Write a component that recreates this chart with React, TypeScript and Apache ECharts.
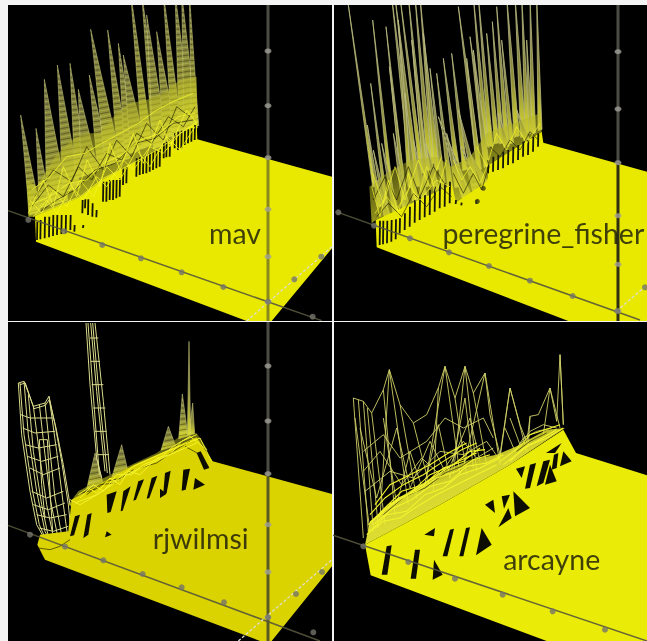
import React, { useEffect, useRef } from "react";
import * as echarts from "echarts";

type P = number[];
// All numbers below are scene readings from the picture, per panel.
const panelNames = ["mav", "peregrine_fisher", "rjwilmsi", "arcayne"];
const labelAnchors = [[705, 700], [640, 698], [602, 660], [665, 722]];

// spike = [top x, top y, base x, base y, half width]
const mavSpikes: P[] = [
  [62,345,105,640,17],[108,385,135,620,17],[133,238,172,610,32],[172,195,215,570,26],[210,190,245,530,20],
  [235,268,270,520,26],[268,225,312,500,20],[272,88,340,490,24],[323,90,372,480,18],[355,130,392,460,18],
  [370,165,415,450,24],[392,-20,442,440,15],[425,-20,472,425,15],[440,45,482,440,22],[470,95,510,410,20],
  [490,-20,532,410,16],[525,-20,558,395,20],[545,-20,572,390,20],[568,-20,585,380,11],
];
const mavMass: P[][] = [
  [[85,650],[80,540],[110,560],[165,470],[215,420],[260,400],[300,400],[340,350],[390,310],[440,300],[490,280],[540,240],[590,230],[592,375],[480,450],[370,510],[310,540],[240,595],[105,650]],
];
const mavMesh: P[][] = [
  [[85,640],[130,540],[160,620],[190,500],[230,590],[262,480],[300,560],[330,430],[360,510],[400,400],[430,490],[480,360],[510,440],[560,330],[590,370]],
  [[100,650],[140,600],[170,640],[215,560],[250,600],[290,530],[320,560],[370,480],[400,510],[450,440],[490,460],[540,400],[590,370]],
  [[90,600],[125,640],[160,570],[200,620],[240,540],[280,590],[320,500],[360,540],[410,450],[450,500],[500,410],[540,450],[585,380]],
  [[105,645],[240,590],[310,535],[370,505],[480,445],[590,365]],
  [[100,610],[150,590],[205,550],[260,540],[310,490],[365,465],[420,420],[480,400],[535,350],[585,340]],
  [[95,570],[150,530],[200,470],[255,460],[305,430],[360,400],[415,370],[470,330],[530,300],[580,280]],
];
const mavDark: P[][] = [
  [[95,620],[145,555],[190,590],[235,500],[275,540],[320,460],[365,480],[410,400],[455,430],[505,350],[550,380],[585,320]],
  [[105,590],[160,510],[215,545],[260,440],[310,510],[350,420],[395,470],[440,370],[490,420],[530,320],[570,350]],
  [[120,635],[170,600],[225,570],[285,510],[345,490],[405,430],[465,415],[520,370],[580,360]],
];
const mavFloor: P[] = [[108,725],[105,648],[240,592],[310,538],[370,505],[480,448],[590,368],[592,418],[996,530],[996,745],[815,963],[740,963]];
// stripe = [x, top y, bottom y]
const mavStripes: P[] = [
  [112,665,720],[122,660,718],[135,650,715],[148,650,712],[160,645,708],[172,645,705],[185,645,702],[198,645,700],[212,645,690],[224,675,695],
  [248,600,640],[256,598,625],[265,598,645],[278,610,650],[290,630,652],[250,675,684],
  [310,545,605],[320,545,605],[330,540,600],[340,540,600],[350,540,595],[360,535,590],
  [370,505,555],[380,500,550],[410,475,530],[420,472,525],[430,468,522],[440,465,520],[450,460,515],[460,455,510],[470,450,505],[480,448,500],
  [492,430,475],[500,425,472],[510,432,470],[525,400,445],[535,395,450],[545,392,445],[555,390,435],[565,388,430],[575,385,425],[585,375,420],
];

const peregrineSpikes: P[] = [
  [55,15,132,560,4],[128,60,182,560,5],[122,250,168,610,5],[112,375,148,620,6],[168,80,215,520,5],[185,-10,250,560,8],[195,-10,262,560,8],[205,60,240,560,6],
  [210,-10,275,520,6],[235,-10,285,500,7],[255,-10,300,510,8],[270,-10,312,490,8],[280,100,322,510,7],[300,205,345,610,8],[320,220,365,600,8],[178,200,225,600,6],
  [340,175,382,510,7],[365,160,405,510,7],[385,20,440,450,6],[410,175,447,510,7],[430,-10,470,440,7],[445,-10,482,440,7],[420,110,465,460,7],[245,120,290,560,6],
  [470,100,500,430,7],[487,65,515,430,7],[500,20,530,430,7],[530,-10,560,410,8],[555,-10,580,410,8],[575,-10,592,400,7],[600,-10,610,400,7],[620,-10,630,390,6],[515,120,545,430,6],[590,120,602,400,6],
  [130,450,172,650,8],[155,430,200,650,9],[190,400,228,630,10],[225,280,255,600,8],[250,420,285,600,9],[288,430,320,570,9],[140,540,180,680,10],[205,500,240,660,10],
  [325,350,410,590,14],[430,150,470,500,8],[350,400,385,560,10],[385,330,440,560,9],[505,340,530,440,8],[560,330,590,420,8],[395,440,450,600,14],[370,470,420,610,10],[420,460,470,560,10],
];
const peregrineMass: P[][] = [
  [[125,670],[118,560],[170,520],[240,480],[320,470],[365,500],[420,470],[470,400],[630,340],[635,395],[480,492],[470,545],[378,606],[240,612],[137,660]],
];
const peregrineMesh: P[][] = [
  [[125,560],[150,650],[175,540],[205,640],[235,520],[260,610],[290,500],[320,580],[350,480]],
  [[135,640],[170,590],[200,630],[240,560],[270,600],[320,540],[360,560]],
  [[128,520],[160,610],[195,500],[225,600],[265,480],[300,560],[335,470]],
  [[440,440],[470,500],[500,400],[530,450],[560,380],[590,430],[630,370]],
  [[370,480],[395,540],[420,500],[450,550],[475,490]],
];
const peregrineDark: P[][] = [
  [[130,600],[165,530],[200,600],[235,500],[270,590],[310,500],[350,560]],
  [[140,650],[175,610],[215,650],[250,580],[290,620],[330,560],[365,590]],
  [[370,520],[400,580],[430,520],[455,570],[470,520]],
  [[480,440],[510,470],[540,420],[570,450],[600,395],[625,420]],
];
const peregrineFloor: P[] = [[140,742],[137,660],[240,612],[365,555],[378,606],[470,545],[480,492],[635,395],[640,428],[951,515],[951,963],[715,963]];
const peregrineStripes: P[] = [
  [150,662,735],[160,662,733],[172,662,730],[185,660,725],[198,658,718],[210,655,700],[225,640,690],[240,620,680],[255,600,668],[270,590,660],[285,585,652],
  [300,570,645],[315,560,635],[330,550,625],[345,550,620],[360,545,610],[378,600,612],[395,608,616],[440,600,612],
  [475,480,520],[490,470,515],[505,465,510],[520,455,505],[535,450,495],[550,440,490],[565,435,480],[580,425,470],[595,420,465],[610,410,455],[625,400,440],
];
const peregrineDots: P[] = [[460,565],[442,604]];

const rjwilmsiSpikes: P[] = [
  [285,405,285,505,25],[365,380,360,475,26],[505,325,505,390,22],[547,228,550,358,14],[578,255,575,350,9],[567,70,567,352,5],
];
const rjwilmsiWires: P[][] = [
  [[55,195],[72,190],[100,265],[135,255],[147,235],[165,320],[185,430],[205,560],[215,660]],
  [[60,200],[76,195],[102,272],[136,262],[148,245],[168,330],[190,440],[210,560]],
  [[55,195],[65,350],[90,520],[110,620],[135,665]],[[60,195],[72,350],[98,520],[118,620],[140,670]],[[72,190],[85,350],[110,520],[135,640],[160,690]],
  [[100,265],[120,420],[140,560],[165,680]],[[135,255],[150,400],[165,540],[190,680]],[[147,235],[170,400],[190,560],[205,670]],[[85,230],[100,400],[125,560],[150,680]],[[118,260],[135,410],[152,550],[178,680]],
  [[118,365],[125,500],[135,600]],[[118,365],[142,365],[150,520],[158,640]],
  [[62,290],[90,300],[140,300],[160,300]],[[75,380],[115,390],[170,380]],[[90,450],[130,470],[180,450]],[[95,520],[140,540],[190,520]],[[110,590],[150,600],[200,590]],
  [[68,330],[105,345],[165,340]],[[82,415],[125,430],[175,415]],[[100,560],[145,575],[195,555]],[[118,630],[160,640],[205,625]],
  [[258,15],[270,200],[290,420],[305,480]],[[285,15],[310,250],[330,470]],[[272,15],[290,220],[315,460]],[[264,15],[282,260],[298,470]],[[278,15],[298,240],[322,465]],
  [[270,60],[295,60]],[[272,130],[300,130]],[[275,200],[310,200]],[[280,270],[316,270]],[[285,340],[320,340]],[[292,410],[327,410]],
];
const rjwilmsiMass: P[][] = [
  [[205,560],[235,520],[290,490],[385,445],[470,405],[540,355],[590,345],[625,400],[600,375],[400,465],[230,575]],
];
const rjwilmsiMesh: P[][] = [
  [[235,530],[265,510],[290,525],[330,480],[360,500],[385,460],[420,470],[470,420],[510,410],[545,370],[590,350]],
  [[240,540],[280,500],[310,520],[350,470],[395,470],[430,440],[480,420],[520,385],[570,355],[620,395]],
  [[210,545],[240,560],[300,525],[400,445],[500,400],[600,360],[635,430]],
  [[225,555],[290,530],[390,465],[510,410],[590,375]],
];
const rjwilmsiDark: P[][] = [
  [[245,525],[285,515],[320,490],[365,480],[400,455]],[[260,530],[300,500],[345,495],[380,470]],[[420,450],[470,435],[520,400],[570,370]],
  [[115,690],[150,695],[180,685],[210,665]],[[555,385],[600,410],[625,445]],
];
const rjwilmsiFloor: P[] = [[135,725],[112,680],[120,650],[205,640],[215,545],[400,442],[590,358],[638,430],[996,528],[996,745],[815,969],[780,969]];
const rjwilmsiHoles: P[][] = [
  [[225,595],[240,590],[222,652],[210,655]],[[262,590],[275,585],[265,650],[250,660]],[[320,640],[335,650],[315,658]],
  [[320,530],[350,520],[332,582],[322,585]],[[370,520],[392,505],[368,578],[362,580]],[[415,490],[432,484],[408,545],[400,548]],
  [[455,480],[472,473],[448,540],[440,542]],[[495,465],[512,458],[500,525],[490,525]],[[480,512],[500,527],[480,540]],
  [[550,455],[570,452],[557,515],[545,518]],[[585,480],[615,500],[580,515]],[[590,405],[602,400],[628,450],[612,455]],
];

const arcayneOutline: P[] = [
  [70,240],[100,250],[125,285],[160,215],[178,155],[210,260],[250,315],[290,290],[325,210],[345,145],[375,240],[405,145],[430,225],[465,165],[480,290],[510,410],
  [540,210],[570,320],[595,385],[600,295],[625,290],[660,210],[680,310],[690,110],[700,320],
];
const arcayneWires: P[][] = [
  [[70,240],[100,660]],[[75,300],[120,640]],[[100,250],[130,640]],[[85,245],[115,640]],[[125,285],[165,620]],[[112,270],[145,630]],[[160,215],[195,590]],[[178,155],[235,560]],[[178,155],[150,600]],
  [[210,260],[260,540]],[[250,315],[300,510]],[[325,210],[310,520]],[[345,145],[390,470]],[[345,145],[285,500]],[[375,240],[410,470]],[[405,145],[440,460]],[[405,145],[370,470]],
  [[465,165],[510,440]],[[465,165],[400,450]],[[430,225],[470,440]],[[540,210],[510,420]],[[540,210],[590,400]],[[600,295],[590,380]],[[660,210],[640,350]],[[660,210],[690,330]],[[690,110],[700,320]],
  [[100,400],[160,350],[210,420],[290,370],[345,300],[400,330],[460,300],[490,360]],
  [[105,520],[180,460],[250,480],[330,400],[400,410],[470,370],[505,420]],
  [[90,330],[140,540],[200,330],[240,510],[300,370],[350,470],[420,300],[450,430]],
  [[100,460],[150,400],[215,500],[275,420],[330,470],[400,370],[440,420],[490,390]],
  [[160,300],[200,560],[240,400],[280,520],[325,320],[360,480],[405,240],[430,450]],
  [[540,300],[570,380],[600,340],[640,320],[680,330]],[[525,330],[555,400],[580,360],[620,340],[665,330]],
];
const arcayneMass: P[][] = [
  [[105,680],[120,610],[190,550],[270,500],[350,455],[420,425],[500,410],[560,385],[650,335],[705,330],[600,400],[540,440],[330,560]],
];
const arcayneMesh: P[][] = [
  [[110,650],[160,610],[210,600],[270,560],[320,530],[380,500],[440,470],[500,440]],
  [[120,640],[170,590],[230,580],[285,530],[340,510],[390,470],[450,450],[510,420]],
  [[130,620],[190,570],[245,545],[300,505],[360,490],[410,445],[470,435],[520,410]],
  [[140,600],[205,540],[260,520],[320,480],[380,460],[430,425],[480,410]],
  [[150,585],[215,520],[280,500],[340,450],[400,430],[450,390]],
  [[125,610],[175,560],[235,530],[300,470],[370,440],[420,400],[465,395]],
  [[115,620],[165,575],[210,545],[265,510],[330,465],[385,430],[440,405]],
  [[120,590],[165,540],[220,500],[280,470],[340,430],[395,395],[440,375]],
  [[135,560],[180,500],[240,470],[300,440],[355,405],[410,375]],
  [[520,440],[560,410],[600,380],[650,360],[700,330]],[[540,430],[580,390],[620,370],[680,335]],[[510,430],[570,385],[600,350],[690,320]],
];
const arcayneDark: P[][] = [
  [[135,570],[190,530],[245,500],[300,480],[355,440],[405,420],[455,400]],
  [[160,590],[225,535],[285,510],[345,465],[395,445],[445,410]],
  [[560,400],[600,370],[650,345]],
];
const arcayneFloor: P[] = [[122,772],[105,680],[330,560],[540,440],[700,335],[738,405],[951,472],[951,969],[650,969]];
const arcayneHoles: P[][] = [
  [[170,685],[185,682],[172,770],[155,770]],[[255,695],[270,695],[258,782],[242,782]],[[312,725],[338,770],[308,785]],[[283,650],[315,630],[312,655]],
  [[360,635],[372,632],[352,715],[338,715]],[[408,630],[420,628],[400,715],[388,715]],[[455,630],[485,680],[438,712]],
  [[465,560],[490,545],[495,585]],[[515,535],[540,530],[522,572]],[[535,570],[545,600],[505,628]],[[550,520],[600,570],[555,595]],
  [[558,452],[585,445],[575,480]],[[600,440],[618,435],[600,510],[585,512]],[[640,430],[660,425],[640,495],[620,505]],[[660,440],[680,490],[645,500]],
  [[648,405],[695,375],[675,405]],[[672,410],[685,405],[680,450],[665,455]],[[700,400],[725,430],[690,445]],
];

// axes: [vertical line], [front edge line], [side edge line] and tick balls on them
const verticalAxisX = [804, 864, 804, 864];
const verticalFloorStart = [473, 488, 467, 0];
const verticalFloorColor = ["#88881c", "#2f2f14", "#5a5a24", "#000"];
const verticalTicks = [[153,317,473,628,770,905],[155,327,488,647,793,933],[144,309,467,620,762,898],[]];
const frontAxis: P[][] = [[[24,632],[965,962]],[[24,637],[930,960]],[[24,622],[960,969]],[[9,652],[951,969]]];
const frontBalls: P[][] = [
  [[85,660],[192,694],[307,735],[423,775],[545,817],[670,861],[804,905],[938,950]],
  [[25,637],[132,677],[240,715],[357,757],[477,798],[600,842],[728,888],[862,933]],
  [[90,650],[195,686],[310,727],[428,768],[545,808],[672,853],[804,898],[940,943]],
  [[100,685],[235,732],[375,782],[518,830],[668,880],[825,935]],
];
const sideAxis: P[][] = [[[740,963],[996,740]],[[860,933],[951,855]],[[715,969],[996,725]],[]];
const sideBalls: P[][] = [[[883,838],[964,770]],[[945,862]],[[888,828],[966,762]],[]];

const floorColors = ["#e9e900", "#e9e900", "#dbd300", "#ebeb08"];
const meshWidths = [0.8, 0.7, 1, 1.1];
const panelSpikes = [mavSpikes, peregrineSpikes, rjwilmsiSpikes, []];
const panelWires = [[], [], rjwilmsiWires, [arcayneOutline, ...arcayneWires]];
const panelMass = [mavMass, peregrineMass, rjwilmsiMass, arcayneMass];
const panelMesh = [mavMesh, peregrineMesh, rjwilmsiMesh, arcayneMesh];
const panelDark = [mavDark, peregrineDark, rjwilmsiDark, arcayneDark];
const panelFloor = [mavFloor, peregrineFloor, rjwilmsiFloor, arcayneFloor];
const panelStripes = [mavStripes, peregrineStripes, [], []];
const panelHoles = [[], [], rjwilmsiHoles, arcayneHoles];
const panelDots = [[], peregrineDots, [], []];

const gridBoxes = [
  { left: 8, top: 5, width: 324, height: 316 },
  { left: 334, top: 5, width: 313, height: 316 },
  { left: 8, top: 322, width: 324, height: 319 },
  { left: 334, top: 322, width: 313, height: 319 },
];
const xRanges = [[24, 996], [12, 951], [24, 996], [12, 951]];
const yRanges = [[15, 963], [15, 963], [12, 969], [12, 969]];

function layer(panel: number, z: number, shapes: any[], draw: (s: any, api: any) => any) {
  return {
    type: "custom", coordinateSystem: "cartesian2d", xAxisIndex: panel, yAxisIndex: panel, z, clip: true, silent: true,
    data: shapes.map((_, i) => [i, i]),
    renderItem: (params: any, api: any) => draw(shapes[params.dataIndex], api),
  };
}
const pts = (api: any, list: P[]) => list.map((p) => api.coord(p));

function drawSpike(panel: number) {
  const narrow = panel === 1;
  return (s: P, api: any) => {
    const [tx, ty, bx, by, w] = s;
    const c = [[bx - w, by + w * 0.3], [tx, ty], [bx + w, by - w * 0.3]];
    const children: any[] = [{
      type: "polygon", shape: { points: pts(api, c) },
      style: {
        fill: new echarts.graphic.LinearGradient(0, 0, 0, 1, [
          { offset: 0, color: narrow ? "#77775e" : "#77774c" }, { offset: 0.6, color: "#8f8f38" }, { offset: 1, color: "#dede30" },
        ]),
        stroke: narrow ? "rgba(190,190,130,0.75)" : "rgba(215,215,130,0.7)", lineWidth: narrow ? 1 : 0.7,
      },
    }];
    if (w > 10) {
      const steps = Math.floor((by - ty) / 8);
      for (let i = 1; i < steps; i++) {
        const f = i / steps;
        const a = api.coord([tx + (bx - w - tx) * f, ty + (by + w * 0.3 - ty) * f]);
        const b = api.coord([tx + (bx + w - tx) * f, ty + (by - w * 0.3 - ty) * f + 3]);
        children.push({
          type: "line", shape: { x1: a[0], y1: a[1], x2: b[0], y2: b[1] },
          style: { stroke: i % 2 ? "rgba(20,20,0,0.55)" : "rgba(240,240,110,0.4)", lineWidth: 0.7 },
        });
      }
    }
    return { type: "group", children };
  };
}

function panelSeries(i: number): any[] {
  const base = i * 20;
  const list: any[] = [];
  list.push(layer(i, base + 3, panelMass[i], (m: P[], api: any) => ({
    type: "polygon", shape: { points: pts(api, m) },
    style: {
      fill: new echarts.graphic.LinearGradient(0, 0, 0.7, 1, i === 3 ? [
        { offset: 0.15, color: "rgba(190,190,40,0.35)" }, { offset: 0.5, color: "rgba(235,235,50,0.9)" }, { offset: 1, color: "#f0f040" },
      ] : [
        { offset: 0.1, color: "rgba(130,130,40,0.25)" }, { offset: 0.6, color: "rgba(200,200,40,0.65)" }, { offset: 1, color: "#e8e830" },
      ]),
    },
  })));
  list.push(layer(i, base + 2, panelSpikes[i], drawSpike(i)));
  list.push(layer(i, base + 2, panelWires[i], (w: P[], api: any) => ({
    type: "polyline", shape: { points: pts(api, w) },
    style: { stroke: i === 3 ? "#cfcf68" : "#dcdc8c", lineWidth: i === 3 ? 0.9 : 1, fill: null },
  })));
  list.push(layer(i, base + 4, [panelFloor[i]], (f: P[], api: any) => ({
    type: "polygon", shape: { points: pts(api, f) }, style: { fill: floorColors[i] },
  })));
  list.push(layer(i, base + 5, panelStripes[i], (s: P, api: any) => ({
    type: "polyline", shape: { points: pts(api, [[s[0], s[1]], [s[0] - 1, s[2]]]) },
    style: { stroke: "#15150a", lineWidth: 1.8, fill: null },
  })));
  list.push(layer(i, base + 5, panelHoles[i], (h: P[], api: any) => ({
    type: "polygon", shape: { points: pts(api, h) }, style: { fill: "#0c0c00" },
  })));
  list.push(layer(i, base + 6, panelDark[i], (m: P[], api: any) => ({
    type: "polyline", shape: { points: pts(api, m) },
    style: { stroke: "rgba(25,25,0,0.7)", lineWidth: 0.9, fill: null },
  })));
  list.push(layer(i, base + 6, panelMesh[i], (m: P[], api: any) => ({
    type: "polyline", shape: { points: pts(api, m) },
    style: { stroke: "#f4f42c", lineWidth: meshWidths[i], fill: null },
  })));
  if (panelDots[i].length) {
    list.push({ type: "scatter", xAxisIndex: i, yAxisIndex: i, z: base + 7, symbolSize: 5, silent: true, data: panelDots[i], itemStyle: { color: "#3a3a10" } });
  }
  if (verticalTicks[i].length) {
    list.push({
      type: "line", xAxisIndex: i, yAxisIndex: i, z: base + 8, symbol: "none", silent: true,
      data: [[verticalAxisX[i], yRanges[i][0]], [verticalAxisX[i], verticalFloorStart[i]]],
      lineStyle: { color: "#4c4c44", width: 3 },
    });
    list.push({
      type: "line", xAxisIndex: i, yAxisIndex: i, z: base + 8, symbol: "none", silent: true,
      data: [[verticalAxisX[i], verticalFloorStart[i]], [verticalAxisX[i], yRanges[i][1]]],
      lineStyle: { color: verticalFloorColor[i], width: 3 },
    });
    list.push({
      type: "scatter", xAxisIndex: i, yAxisIndex: i, z: base + 9, symbolSize: [7, 5], silent: true,
      data: verticalTicks[i].map((y) => [verticalAxisX[i], y]), itemStyle: { color: "#a0a098" },
    });
  }
  list.push({
    type: "line", xAxisIndex: i, yAxisIndex: i, z: base + 8, symbol: "none", silent: true, data: frontAxis[i],
    lineStyle: { color: "rgba(85,85,60,0.9)", width: 1.5 },
  });
  list.push({
    type: "scatter", xAxisIndex: i, yAxisIndex: i, z: base + 9, symbolSize: 6, silent: true, data: frontBalls[i],
    itemStyle: { color: "#74746a" },
  });
  if (sideAxis[i].length) {
    list.push({
      type: "line", xAxisIndex: i, yAxisIndex: i, z: base + 8, symbol: "none", silent: true, data: sideAxis[i],
      lineStyle: { color: "#deded0", width: 1.3, type: [3, 2] },
    });
    list.push({
      type: "scatter", xAxisIndex: i, yAxisIndex: i, z: base + 9, symbolSize: 6, silent: true, data: sideBalls[i],
      itemStyle: { color: "#74746a" },
    });
  }
  list.push({
    type: "scatter", xAxisIndex: i, yAxisIndex: i, z: base + 12, symbolSize: 0, silent: true, clip: false,
    data: [labelAnchors[i]],
    label: {
      show: true, position: "inside", formatter: panelNames[i], color: "#14140a",
      fontFamily: "Lato", fontSize: 28.5,
    },
  });
  return list;
}

export default function App() {
  const ref = useRef<HTMLDivElement>(null);
  useEffect(() => {
    const chart = echarts.init(ref.current!, undefined, { renderer: "svg" });
    chart.setOption({
      animation: false,
      backgroundColor: "#f4f4f4",
      grid: gridBoxes.map((g) => ({ ...g, show: true, backgroundColor: "#000", borderWidth: 0 })),
      xAxis: xRanges.map((r, i) => ({ type: "value", gridIndex: i, min: r[0], max: r[1], show: false })),
      yAxis: yRanges.map((r, i) => ({ type: "value", gridIndex: i, min: r[0], max: r[1], inverse: true, show: false })),
      series: [0, 1, 2, 3].flatMap(panelSeries),
    });
    return () => chart.dispose();
  }, []);
  return <div ref={ref} style={{ position: "absolute", left: 0, top: 0, width: 647, height: 641, filter: "blur(0.7px)" }} />;
}
